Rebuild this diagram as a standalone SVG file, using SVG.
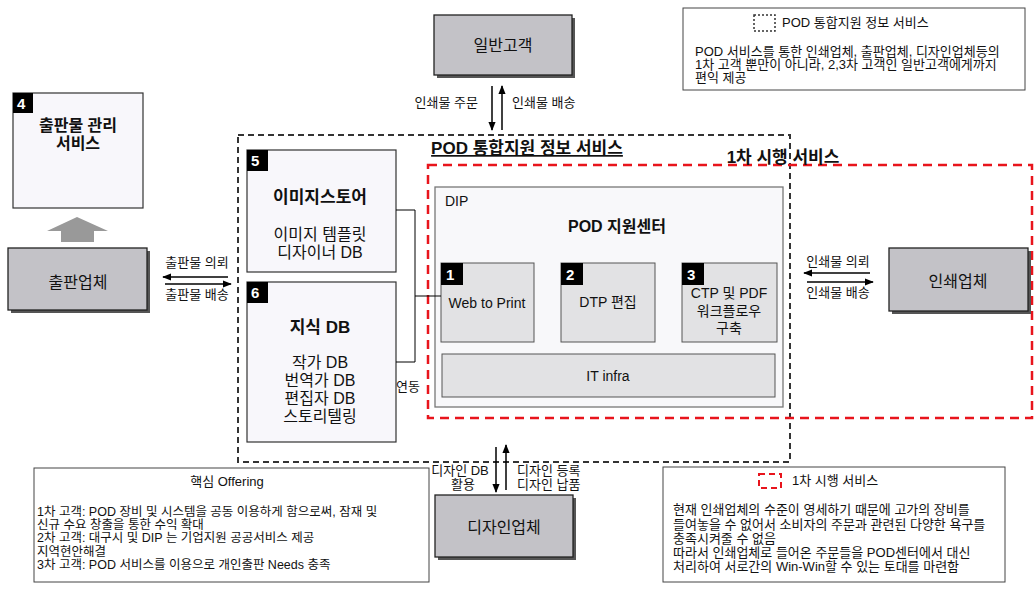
<svg xmlns="http://www.w3.org/2000/svg" width="1036" height="591" viewBox="0 0 1036 591">
<defs>
<style>
text{font-family:"Liberation Sans","Noto Sans CJK KR",sans-serif;fill:#111}
.gb{fill:#c3c2c7;stroke:#222;stroke-width:1.3}
.sh{fill:#555}
.lb{fill:#f8f7fb;stroke:#333;stroke-width:1.2}
.sub{fill:#e2e2e4;stroke:#555;stroke-width:1}
.badge{fill:#000}
.bt{fill:#fff;font-weight:bold;font-size:15px}
.t17{font-size:17px}
.t16{font-size:16px}
.t14{font-size:14px}
.t13{font-size:13px}
.t12{font-size:12.5px}
.bold{font-weight:bold}
.ln{stroke:#000;stroke-width:1.5;fill:none}
.thin{stroke:#000;stroke-width:1;fill:none}
.note{fill:#fff;stroke:#444;stroke-width:1}
</style>
<marker id="ah" viewBox="0 0 10 10" refX="9" refY="5" markerWidth="9" markerHeight="9" markerUnits="userSpaceOnUse" orient="auto">
<path d="M0,1 L10,5 L0,9 z" fill="#000"/>
</marker>
</defs>
<rect width="1036" height="591" fill="#fff"/>

<!-- containers -->
<g id="pod-integrated">
<rect x="238" y="135" width="552" height="327" fill="none" stroke="#333" stroke-width="2" stroke-dasharray="6,4"/>
<text x="527" y="154" text-anchor="middle" class="t17 bold" text-decoration="underline">POD 통합지원 정보 서비스</text>
</g>
<g id="first-service">
<rect x="428" y="165" width="604" height="253" fill="none" stroke="#e8141c" stroke-width="2.5" stroke-dasharray="9,6"/>
<text x="783" y="163" text-anchor="middle" class="t17 bold">1차 시행 서비스</text>
</g>

<!-- DIP -->
<g id="dip">
<rect x="435" y="187" width="348" height="220" fill="#f8f8fa" stroke="#777" stroke-width="1.3"/>
<text x="445" y="206" class="t14" fill="#333">DIP</text>
<text x="617" y="232" text-anchor="middle" class="t16 bold">POD 지원센터</text>
</g>
<g id="n1">
<rect x="441" y="263" width="93" height="79" class="sub"/>
<rect x="441" y="263" width="22" height="22" class="badge"/>
<text x="446" y="280" class="bt">1</text>
<text x="487" y="308" text-anchor="middle" class="t14">Web to Print</text>
</g>
<g id="n2">
<rect x="561" y="263" width="94" height="79" class="sub"/>
<rect x="561" y="263" width="22" height="22" class="badge"/>
<text x="566" y="280" class="bt">2</text>
<text x="608" y="307" text-anchor="middle" class="t14">DTP 편집</text>
</g>
<g id="n3">
<rect x="682" y="263" width="95" height="79" class="sub"/>
<rect x="682" y="263" width="22" height="22" class="badge"/>
<text x="687" y="280" class="bt">3</text>
<text x="729" y="298" text-anchor="middle" class="t14">CTP 및 PDF</text>
<text x="729" y="316" text-anchor="middle" class="t14">워크플로우</text>
<text x="729" y="333" text-anchor="middle" class="t14">구축</text>
</g>
<g id="it-infra">
<rect x="442" y="354" width="333" height="43" class="sub"/>
<text x="608" y="381" text-anchor="middle" class="t14">IT infra</text>
</g>

<!-- left boxes -->
<g id="n4">
<rect x="13" y="93" width="130" height="115" class="lb"/>
<rect x="13" y="93" width="20" height="20" class="badge"/>
<text x="17" y="109" class="bt">4</text>
<text x="78" y="131" text-anchor="middle" class="t16 bold">출판물 관리</text>
<text x="78" y="149" text-anchor="middle" class="t16 bold">서비스</text>
</g>
<g id="n5">
<rect x="247" y="150" width="149" height="122" class="lb"/>
<rect x="247" y="150" width="21" height="21" class="badge"/>
<text x="251" y="166" class="bt">5</text>
<text x="320" y="203" text-anchor="middle" class="t17 bold">이미지스토어</text>
<text x="320" y="240" text-anchor="middle" class="t16">이미지 템플릿</text>
<text x="320" y="258" text-anchor="middle" class="t16">디자이너 DB</text>
</g>
<g id="n6">
<rect x="247" y="282" width="149" height="160" class="lb"/>
<rect x="247" y="282" width="21" height="21" class="badge"/>
<text x="251" y="298" class="bt">6</text>
<text x="320" y="333" text-anchor="middle" class="t17 bold">지식 DB</text>
<text x="320" y="368" text-anchor="middle" class="t16">작가 DB</text>
<text x="320" y="386" text-anchor="middle" class="t16">번역가 DB</text>
<text x="320" y="404" text-anchor="middle" class="t16">편집자 DB</text>
<text x="320" y="422" text-anchor="middle" class="t16">스토리텔링</text>
</g>

<!-- gray entity boxes -->
<g id="general-customer">
<rect x="437" y="18" width="138" height="60" class="sh"/>
<rect x="434" y="15" width="138" height="60" class="gb"/>
<text x="503" y="51" text-anchor="middle" class="t16">일반고객</text>
</g>
<g id="publisher">
<rect x="11" y="251" width="139" height="62" class="sh"/>
<rect x="8" y="248" width="139" height="62" class="gb"/>
<text x="78" y="288" text-anchor="middle" class="t16">출판업체</text>
</g>
<g id="printer">
<rect x="892" y="251" width="139" height="63" class="sh"/>
<rect x="889" y="248" width="139" height="63" class="gb"/>
<text x="958" y="287" text-anchor="middle" class="t16">인쇄업체</text>
</g>
<g id="designer">
<rect x="438" y="498" width="138" height="62" class="sh"/>
<rect x="435" y="495" width="138" height="62" class="gb"/>
<text x="504" y="533" text-anchor="middle" class="t16">디자인업체</text>
</g>

<!-- connectors -->
<g id="connectors">
<polygon points="77,217 108,231 94,231 94,242 61,242 61,231 47,231" fill="#999"/>
<line x1="492" y1="86" x2="492" y2="130" class="ln" marker-end="url(#ah)"/>
<line x1="502" y1="130" x2="502" y2="86" class="ln" marker-end="url(#ah)"/>
<line x1="228" y1="277" x2="163" y2="277" class="ln" marker-end="url(#ah)"/>
<line x1="165" y1="284" x2="231" y2="284" class="ln" marker-end="url(#ah)"/>
<line x1="870" y1="273" x2="804" y2="273" class="ln" marker-end="url(#ah)"/>
<line x1="807" y1="282" x2="873" y2="282" class="ln" marker-end="url(#ah)"/>
<line x1="496" y1="447" x2="496" y2="492" class="ln" marker-end="url(#ah)"/>
<line x1="506" y1="490" x2="506" y2="445" class="ln" marker-end="url(#ah)"/>
<polyline points="396,210 415,210 415,362 396,362" class="thin"/>
<line x1="415" y1="296" x2="441" y2="296" class="thin"/>
</g>

<!-- connector labels -->
<g id="labels">
<text x="478" y="107" text-anchor="end" class="t13">인쇄물 주문</text>
<text x="512" y="107" class="t13">인쇄물 배송</text>
<text x="197" y="267" text-anchor="middle" class="t13">출판물 의뢰</text>
<text x="197" y="299" text-anchor="middle" class="t13">출판물 배송</text>
<text x="838" y="266" text-anchor="middle" class="t13">인쇄물 의뢰</text>
<text x="838" y="297" text-anchor="middle" class="t13">인쇄물 배송</text>
<text x="460" y="475" text-anchor="middle" class="t13">디자인 DB</text>
<text x="463" y="489" text-anchor="middle" class="t13">활용</text>
<text x="517" y="475" class="t13">디자인 등록</text>
<text x="517" y="489" class="t13">디자인 납품</text>
<text x="408" y="391" text-anchor="middle" class="t13">연동</text>
</g>

<!-- notes -->
<g id="legend-top">
<rect x="683" y="8" width="342" height="82" class="note"/>
<rect x="754" y="15" width="21" height="16" fill="none" stroke="#333" stroke-width="1.5" stroke-dasharray="2,2"/>
<text x="782" y="27" class="t13">POD 통합지원 정보 서비스</text>
<text x="695" y="56" class="t13">POD 서비스를 통한 인쇄업체, 출판업체, 디자인업체등의</text>
<text x="695" y="69" class="t13">1차 고객 뿐만이 아니라, 2,3차 고객인 일반고객에게까지</text>
<text x="695" y="82" class="t13">편익 제공</text>
</g>
<g id="offering">
<rect x="34" y="468" width="395" height="114" class="note"/>
<text x="227" y="486" text-anchor="middle" class="t13">핵심 Offering</text>
<text x="37" y="516" class="t12">1차 고객: POD 장비 및 시스템을 공동 이용하게 함으로써, 잠재 및</text>
<text x="37" y="529" class="t12">신규 수요 창출을 통한 수익 확대</text>
<text x="37" y="542" class="t12">2차 고객: 대구시 및 DIP 는 기업지원 공공서비스 제공</text>
<text x="37" y="556" class="t12">지역현안해결</text>
<text x="37" y="569" class="t12">3차 고객: POD 서비스를 이용으로 개인출판 Needs 충족</text>
</g>
<g id="legend-bottom">
<rect x="663" y="467" width="342" height="115" class="note"/>
<rect x="759" y="474" width="22" height="14" fill="none" stroke="#e8141c" stroke-width="2" stroke-dasharray="6,4"/>
<text x="792" y="485" class="t13">1차 시행 서비스</text>
<text x="673" y="514" class="t13">현재 인쇄업체의 수준이 영세하기 때문에 고가의 장비를</text>
<text x="673" y="529" class="t13">들여놓을 수 없어서 소비자의 주문과 관련된 다양한 욕구를</text>
<text x="673" y="543" class="t13">충족시켜줄 수 없음</text>
<text x="673" y="557" class="t13">따라서 인쇄업체로 들어온 주문들을 POD센터에서 대신</text>
<text x="673" y="571" class="t13">처리하여 서로간의 Win-Win할 수 있는 토대를 마련함</text>
</g>
</svg>
